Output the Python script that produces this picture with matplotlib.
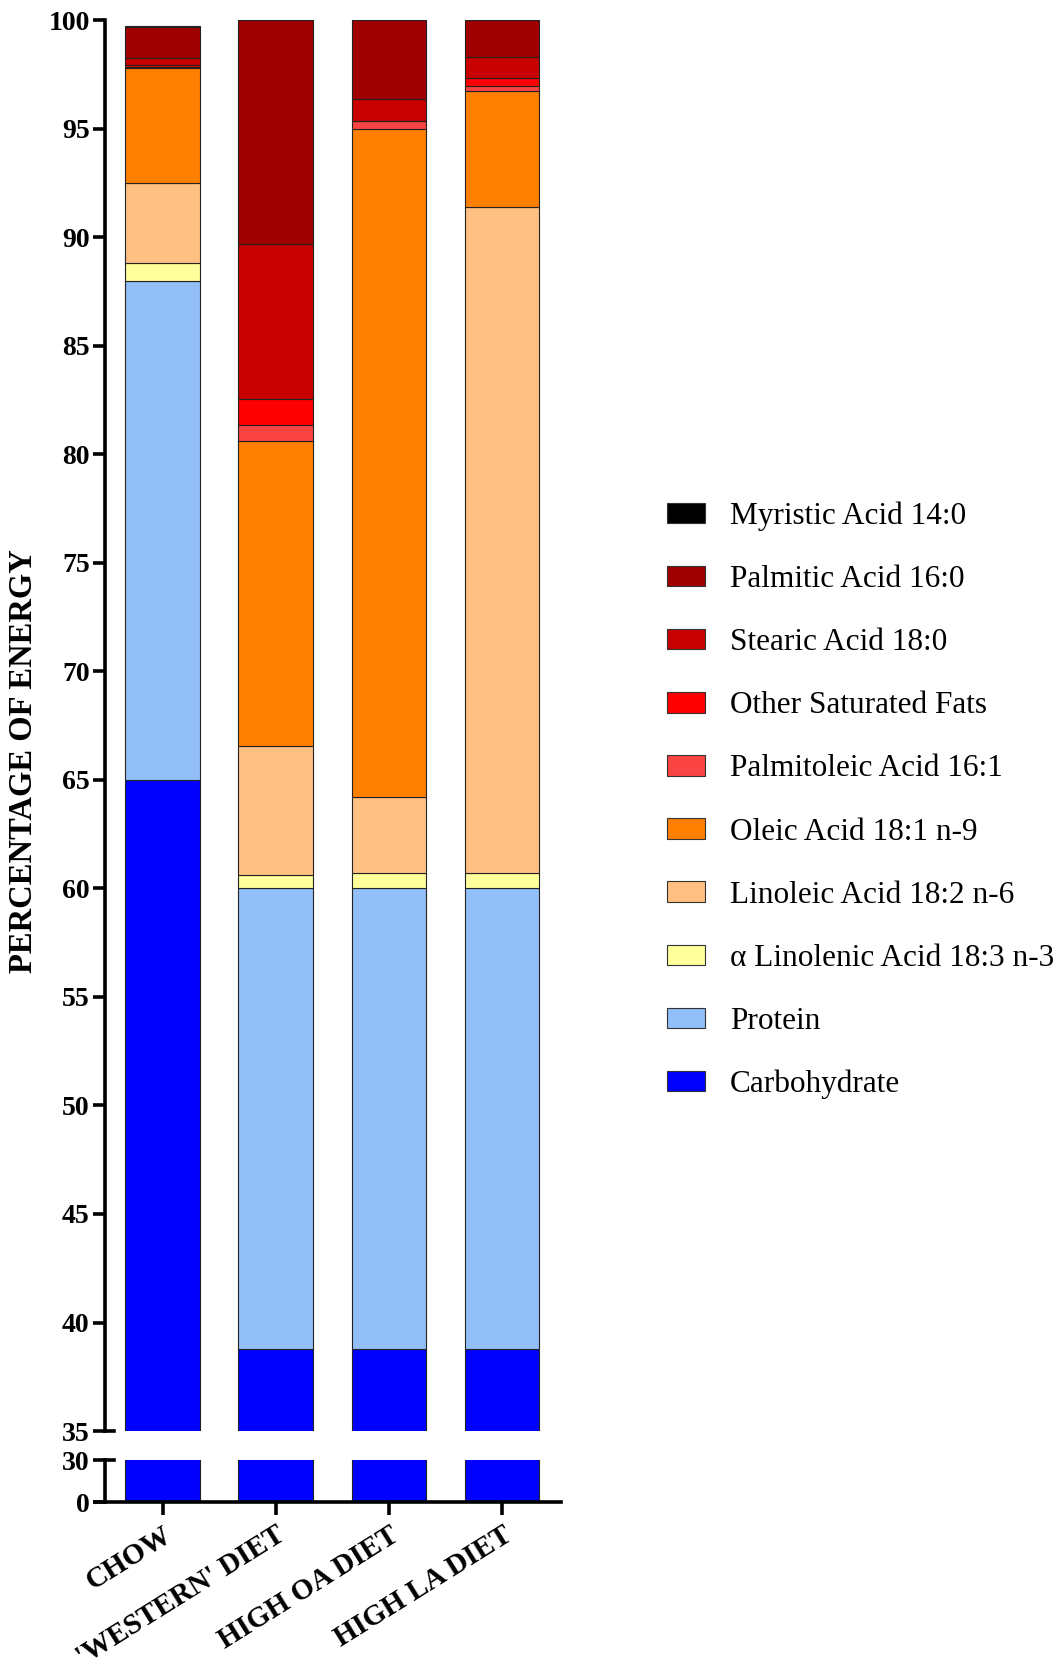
import numpy as np
import matplotlib
matplotlib.use("Agg")
import matplotlib.pyplot as plt
from matplotlib.patches import Patch

plt.rcParams['font.family'] = ['Liberation Serif', 'DejaVu Serif']

diets = ["CHOW", "'WESTERN' DIET", "HIGH OA DIET", "HIGH LA DIET"]

# % of energy per component, stacked bottom -> top
carbohydrate = [65.0, 38.8, 38.8, 38.8]
protein = [23.0, 21.2, 21.2, 21.2]
alpha_linolenic = [0.82, 0.60, 0.73, 0.70]
linoleic = [3.66, 5.96, 3.48, 30.69]
oleic = [5.30, 14.06, 30.77, 5.33]
palmitoleic = [0.08, 0.73, 0.37, 0.23]
other_saturated = [0.07, 1.18, 0.0, 0.39]
stearic = [0.33, 7.14, 1.01, 0.97]
palmitic = [1.40, 10.33, 3.64, 1.69]
myristic = [0.06, 0.0, 0.0, 0.0]

layers = [
    ("Carbohydrate", carbohydrate, "#0000ff"),
    ("Protein", protein, "#92bff8"),
    ("\u03b1 Linolenic Acid 18:3 n-3", alpha_linolenic, "#ffff9c"),
    ("Linoleic Acid 18:2 n-6", linoleic, "#ffc082"),
    ("Oleic Acid 18:1 n-9", oleic, "#ff8000"),
    ("Palmitoleic Acid 16:1", palmitoleic, "#fa4444"),
    ("Other Saturated Fats", other_saturated, "#ff0000"),
    ("Stearic Acid 18:0", stearic, "#c80000"),
    ("Palmitic Acid 16:0", palmitic, "#a00000"),
    ("Myristic Acid 14:0", myristic, "#000000"),
]

fig = plt.figure(figsize=(10.57, 16.59), dpi=100)
ax_top = fig.add_axes([0.0993, 0.1374, 0.4314, 0.8505])
ax_bot = fig.add_axes([0.0993, 0.0946, 0.4314, 0.0253])

x = np.arange(len(diets))
for ax in (ax_top, ax_bot):
    bottom = np.zeros(len(diets))
    for name, vals, col in layers:
        vals = np.array(vals)
        ax.bar(x, vals, 0.66, bottom=bottom, color=col,
               edgecolor="#222222", linewidth=0.8)
        bottom += vals
    ax.set_xlim(-0.51, 3.52)
    for s in ("top", "right"):
        ax.spines[s].set_visible(False)
    ax.spines["left"].set_linewidth(2.6)
    ax.tick_params(axis="y", length=9, width=2.6, labelsize=20, pad=2)

ax_top.set_ylim(35, 100)
ax_top.set_yticks(np.arange(35, 101, 5))
ax_top.spines["bottom"].set_visible(False)
ax_top.tick_params(axis="x", bottom=False, labelbottom=False)
for lab in ax_top.get_yticklabels():
    lab.set_fontweight("bold")

ax_bot.set_ylim(0, 30)
ax_bot.set_yticks([0, 30])
ax_bot.spines["bottom"].set_linewidth(2.6)
ax_bot.spines["bottom"].set_bounds(-0.6, 3.52)
ax_bot.set_xticks(x)
ax_bot.set_xticklabels(diets, rotation=32, ha="right", va="top",
                       rotation_mode="anchor", fontsize=21, fontweight="bold")
ax_bot.tick_params(axis="x", length=9, width=2.6, pad=5)
for lab in ax_bot.get_yticklabels():
    lab.set_fontweight("bold")

# caps at the axis break
ax_top.axhline(35, xmin=0, xmax=0.02, color="black", lw=2.6, clip_on=False)
ax_bot.axhline(30, xmin=0, xmax=0.02, color="black", lw=2.6, clip_on=False)

fig.text(0.022, 0.541, "PERCENTAGE OF ENERGY", rotation=90, ha="center",
         va="center", fontsize=23.5, fontweight="bold")

handles = [Patch(facecolor=col, edgecolor="#333333", linewidth=0.8, label=name)
           for name, vals, col in layers[::-1]]
fig.legend(handles=handles, loc="upper left", bbox_to_anchor=(0.616, 0.707),
           frameon=False, fontsize=22.5, borderpad=0, handlelength=1.22,
           handleheight=0.62, handletextpad=0.8, labelspacing=1.09)

fig.savefig("out.png", dpi=100)
